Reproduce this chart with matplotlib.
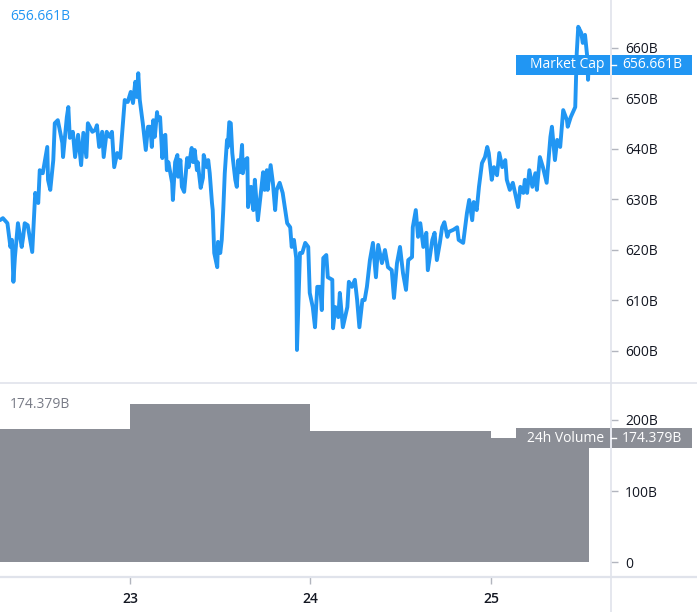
import matplotlib
matplotlib.use('Agg')
import matplotlib.pyplot as plt
from matplotlib.patches import Rectangle
from matplotlib.lines import Line2D
from matplotlib.transforms import IdentityTransform
import numpy as np

# ---- data: hours since Jul 22 00:00, market cap in billions USD ----
hours_a = [6.7, 7.1, 7.7, 8.1, 8.3, 8.5, 8.7, 9.1, 9.6, 9.8, 10.0, 10.4, 11.0, 11.4, 11.8,
           12.0, 12.4, 13.0, 13.1, 13.4, 13.8, 14.0, 14.4, 15.0, 15.1, 15.6, 15.8, 16.0, 16.4, 16.7,
           17.1, 17.5, 17.8, 18.2, 18.4, 19.0, 19.4, 19.6, 19.9, 20.3, 20.5, 20.9, 21.3, 21.6, 21.9,
           22.3, 22.7, 23.1, 23.3, 23.7, 24.1, 24.4, 24.7, 24.9, 25.1, 25.3, 25.7, 26.1, 26.4]
mcap_a = [625.9, 626.3, 625.3, 620.6, 622.0, 613.7, 618.6, 625.3, 620.6, 622.6, 625.3, 624.9, 619.6, 631.3, 629.3,
          635.8, 635.2, 640.4, 633.9, 631.9, 637.8, 645.1, 645.7, 641.2, 638.4, 646.3, 648.3, 642.2, 643.4, 638.4,
          642.8, 636.8, 643.2, 638.4, 645.1, 643.4, 643.8, 644.7, 640.4, 643.4, 638.4, 643.4, 642.4, 643.4, 636.4,
          639.2, 638.2, 645.7, 649.7, 649.3, 651.3, 649.1, 653.3, 650.3, 655.0, 649.7, 645.1, 639.8, 644.4]

hours_b = [26.7, 26.9, 27.1, 27.3, 27.6, 27.7, 28.0, 28.3, 28.4, 28.7, 28.9, 29.1, 29.6, 29.7, 30.0,
           30.3, 30.4, 30.7, 30.9, 31.2, 31.6, 31.8, 32.2, 32.4, 32.6, 32.9, 33.0, 33.4, 33.7, 33.8,
           34.2, 34.4, 34.6, 34.9, 35.0, 35.2, 35.6, 35.7, 36.0, 36.2, 36.4, 36.6, 36.9, 37.0, 37.2,
           37.4, 37.6, 37.7, 38.0, 38.2, 38.4, 38.6, 38.9, 39.0, 39.3, 39.6, 39.7, 40.1, 40.4, 40.6,
           41.0, 41.3, 41.7, 41.9, 42.2, 42.3, 42.7, 43.0, 43.3, 43.5, 43.9, 44.3, 44.9, 45.3, 45.5,
           45.8, 46.1, 46.2, 46.6]
mcap_b = [644.4, 640.4, 645.7, 642.4, 647.3, 645.7, 646.3, 638.2, 642.4, 642.8, 635.8, 637.4, 633.3, 629.9, 637.4,
          638.8, 634.5, 637.8, 632.5, 631.5, 638.2, 636.4, 640.2, 637.4, 639.8, 635.8, 637.4, 632.3, 634.3, 638.8,
          636.4, 637.8, 635.2, 629.3, 627.9, 619.4, 616.6, 621.6, 619.4, 622.0, 627.9, 635.2, 641.8, 640.4, 645.3,
          645.1, 639.2, 637.8, 633.9, 632.5, 637.8, 635.4, 640.8, 635.2, 637.8, 638.2, 628.5, 632.5, 627.9, 633.9,
          625.9, 629.9, 635.4, 631.9, 635.8, 631.9, 636.8, 633.3, 627.9, 631.9, 633.3, 631.3, 625.3, 624.5, 620.6,
          622.0, 618.4, 600.2, 619.4]

hours_c = [46.9, 47.3, 47.7, 47.9, 48.3, 48.6, 48.9, 49.3, 49.5, 49.7, 50.1, 50.3, 50.9, 51.0, 51.3,
           51.7, 51.9, 52.3, 52.9, 53.1, 53.5, 53.9, 54.2, 54.5, 54.9, 55.2, 55.5, 55.9, 56.3, 56.7,
           57.0, 57.5, 57.9, 58.3, 58.8, 59.1, 59.5, 59.9, 60.3, 60.7, 61.0, 61.5, 61.6, 62.0, 62.3,
           62.6, 63.0, 63.4, 63.6, 64.2, 64.5, 64.8, 65.2, 65.5, 65.8, 66.2, 66.4]
mcap_c = [619.4, 621.4, 620.6, 611.5, 608.7, 604.7, 612.7, 612.7, 608.1, 618.4, 619.0, 614.6, 614.1, 604.5, 608.7,
          606.7, 611.5, 604.7, 608.7, 613.7, 612.7, 614.1, 610.1, 604.7, 610.1, 610.1, 612.7, 618.0, 621.4, 614.6,
          621.0, 617.4, 620.0, 616.6, 616.0, 610.5, 617.4, 620.6, 615.4, 612.1, 618.0, 618.6, 624.5, 627.9, 622.6,
          625.3, 620.6, 623.4, 616.0, 622.0, 623.4, 618.0, 621.4, 624.5, 625.5, 622.6, 623.6]

hours_d = [67.0, 67.5, 67.7, 68.3, 68.8, 69.1, 69.5, 69.7, 70.1, 70.4, 70.8, 71.2, 71.5, 71.7, 72.1,
           72.4, 72.8, 73.1, 73.5, 73.9, 74.1, 74.5, 74.9, 75.2, 75.6, 75.9, 76.3, 76.5, 76.8, 77.1,
           77.5, 77.9, 78.1, 78.5, 78.9, 79.4, 79.9, 80.1, 80.5, 80.8, 81.2, 81.6, 82.1, 82.2, 82.6,
           82.9, 83.2, 83.4, 83.6, 84.0, 84.2, 84.5, 84.8, 84.9, 85.0]
mcap_d = [624.0, 624.5, 622.0, 621.4, 627.3, 629.9, 625.9, 629.5, 627.9, 632.5, 637.2, 638.4, 640.4, 639.2, 633.9,
          636.4, 634.8, 639.2, 636.4, 637.8, 633.9, 631.9, 633.3, 631.3, 628.5, 632.5, 631.3, 633.9, 631.3, 635.8,
          632.5, 635.2, 631.9, 638.4, 636.4, 633.3, 642.4, 644.4, 637.8, 641.8, 640.4, 647.7, 645.7, 644.4, 646.3,
          647.3, 648.3, 659.0, 664.2, 663.0, 661.0, 662.6, 658.2, 653.7, 656.661]

vol_days = [22, 23, 24, 25]
volume = [187.0, 222.5, 184.5, 174.379]

price_ticks = [600, 610, 620, 630, 640, 650, 660]
price_labels = ['600B', '610B', '620B', '630B', '640B', '650B', '660B']
vol_ticks = [0, 100, 200]
vol_labels = ['0', '100B', '200B']
day_ticks = [23, 24, 25]
day_labels = ['23', '24', '25']

last_mcap_text = '656.661B'
last_vol_text = '174.379B'

# ---- styling ----
W, H = 697, 612
BLUE = '#2196f3'
GREY_VOL = '#8b8e96'
GRID = '#e0e3eb'
TXT = '#131722'
FONT = 'Open Sans'
FS = 10

hours = np.array(hours_a + hours_b + hours_c + hours_d)
mcap = np.array(mcap_a + mcap_b + mcap_c + mcap_d)
days = 22 + hours / 24.0

fig = plt.figure(figsize=(W / 100, H / 100), dpi=100)
fig.patch.set_facecolor('white')

axr = 611 / W
ax1 = fig.add_axes([0, (H - 383) / H, axr, 383 / H])
ax2 = fig.add_axes([0, (H - 577) / H, axr, 194 / H], sharex=ax1)

xmin, xmax = 22.2798, 25.6648
ax1.set_xlim(xmin, xmax)
ax1.set_ylim(593.66, 669.5)
ax2.set_ylim(-21.1, 252.1)

ax1.plot(days, mcap, color=BLUE, lw=2.8, solid_joinstyle='round', solid_capstyle='round', zorder=3)

widths = [1, 1, 1, days[-1] - vol_days[-1]]
ax2.bar(vol_days, volume, width=widths, align='edge', color=GREY_VOL, linewidth=0)

for ax in (ax1, ax2):
    for s in ax.spines.values():
        s.set_visible(False)
    ax.set_facecolor('none')
    ax.yaxis.tick_right()
    ax.tick_params(axis='y', which='both', direction='out', length=5, width=1,
                   color='#b2b5be', pad=5, labelsize=FS, labelcolor=TXT)

ax1.set_yticks(price_ticks)
ax1.set_yticklabels(price_labels, fontfamily=FONT, fontsize=FS, color=TXT)
ax2.set_yticks(vol_ticks)
ax2.set_yticklabels(vol_labels, fontfamily=FONT, fontsize=FS, color=TXT)

ax1.tick_params(axis='x', bottom=False, labelbottom=False)
ax2.set_xticks(day_ticks)
ax2.set_xticklabels(day_labels, fontfamily=FONT, fontsize=FS, fontweight='semibold', color=TXT)
ax2.tick_params(axis='x', direction='out', length=5, width=1, color='#b2b5be', pad=6)

# separators / axis lines in pixel space
ident = IdentityTransform()
fig.add_artist(Line2D([0, W], [H - 383, H - 383], color=GRID, lw=1.2, transform=ident))
fig.add_artist(Line2D([0, W], [H - 577, H - 577], color=GRID, lw=1.6, transform=ident))
fig.add_artist(Line2D([611, 611], [0, H], color=GRID, lw=1.2, transform=ident))

fig.canvas.draw()

# last value labels
def value_tag(ax, val, name, value_text, color):
    ypix = ax.transData.transform((xmin, val))[1]
    fig.add_artist(Rectangle((516, ypix - 10), 94, 20, facecolor=color, edgecolor='none',
                             transform=ident, zorder=10))
    fig.add_artist(Rectangle((612, ypix - 10), 79.5, 20, facecolor=color, edgecolor='none',
                             transform=ident, zorder=10))
    fig.add_artist(Line2D([611, 616], [ypix, ypix], color='white', lw=1, transform=ident, zorder=11))
    fig.text(604, ypix, name, color='white', fontsize=FS, fontfamily=FONT, ha='right', va='center',
             transform=ident, zorder=12)
    fig.text(622, ypix, value_text, color='white', fontsize=FS, fontfamily=FONT, ha='left', va='center',
             transform=ident, zorder=12)

value_tag(ax1, mcap[-1], 'Market Cap', last_mcap_text, BLUE)
value_tag(ax2, volume[-1], '24h Volume', last_vol_text, GREY_VOL)

fig.text(10, H - 17, last_mcap_text, color=BLUE, fontsize=FS, fontfamily=FONT, ha='left', va='center',
         transform=ident)
fig.text(10, H - 404, last_vol_text, color='#787b86', fontsize=FS, fontfamily=FONT, ha='left', va='center',
         transform=ident)

fig.savefig('out.png', dpi=100, facecolor='white')
